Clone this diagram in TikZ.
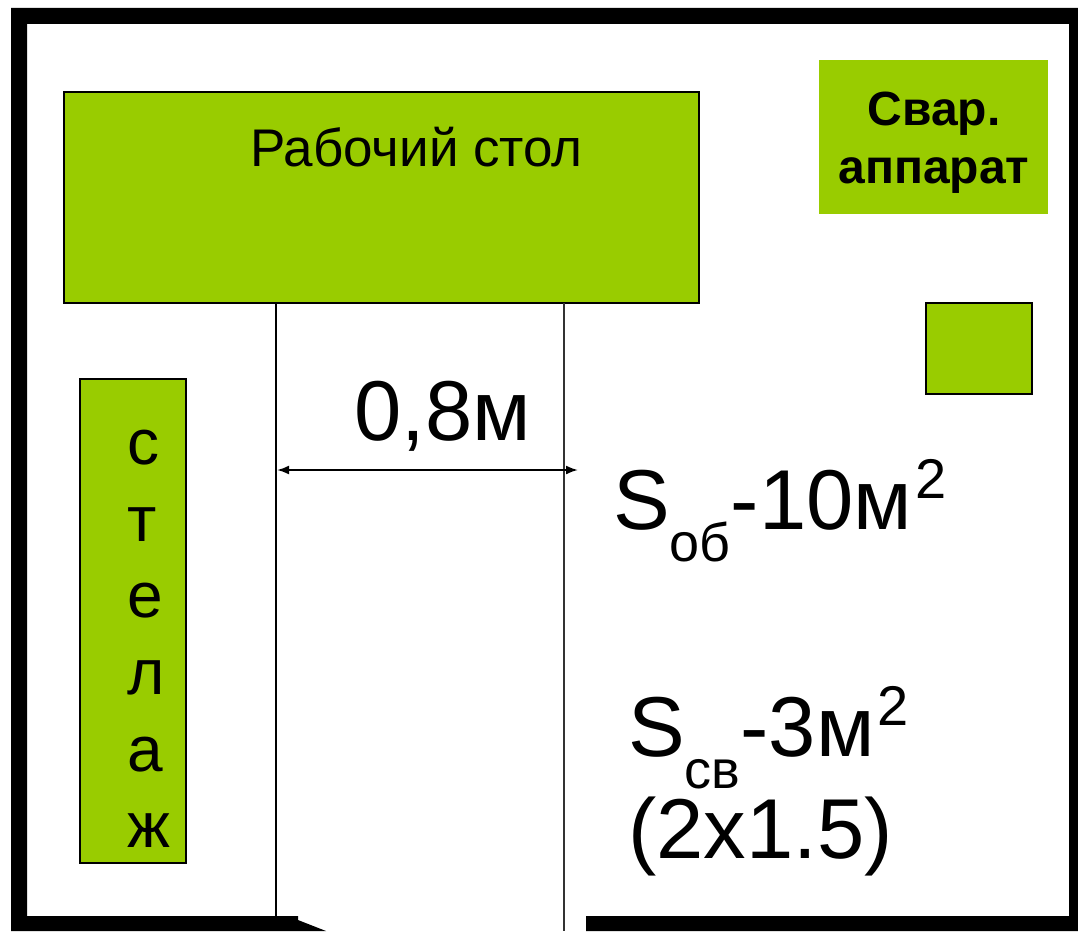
\documentclass[tikz,border=0pt]{standalone}
\usepackage{fontspec}
\setmainfont{Liberation Sans}
\usepackage{xcolor}
\usetikzlibrary{arrows.meta}
\definecolor{boxcolor}{HTML}{99CC00}
\newcommand{\fs}[1]{\fontsize{#1}{#1}\selectfont}
\newcommand{\subtext}[1]{\raisebox{-32pt}{\fs{54}#1}}
\newcommand{\suptext}[1]{\hspace{3pt}\raisebox{31pt}{\fs{56}#1}}
\tikzset{
  boxnode/.style={fill=boxcolor,draw=black,line width=1.4pt,inner sep=0pt,outer sep=0pt},
  plainbox/.style={fill=boxcolor,inner sep=0pt,outer sep=0pt},
  dimline/.style={black,line width=2pt},
}
\begin{document}
\begin{tikzpicture}[x=1pt,y=-1pt]
  \useasboundingbox (0,0) rectangle (1078,931);
  \fill [white] (0,0) rectangle (1078,931);
  % walls
  \fill [black] (11,8) -- (1078,8) -- (1078,931) -- (586,931) -- (586,916) -- (1069,916) -- (1069,24)
     -- (27,24) -- (27,916) -- (298,916) -- (298,920) -- (326,931) -- (11,931) -- cycle;
  % furniture
  \node [boxnode,minimum width=635pt,minimum height=211pt] (table) at (381.5,197.5) {};
  \node [anchor=base] (tablelabel) at (416.5,166) {\fs{53}Рабочий стол};
  \node [plainbox,minimum width=229pt,minimum height=153pt] (welder) at (933.5,137) {};
  \node [anchor=base] (welderlabel1) at (934,125) {\bfseries\fs{48}Свар.};
  \node [anchor=base] (welderlabel2) at (934,183) {\bfseries\fs{48}аппарат};
  \node [boxnode,minimum width=106pt,minimum height=91pt] (smallbox) at (979,348.5) {};
  \node [boxnode,minimum width=106pt,minimum height=484pt] (rack) at (133,621) {};
  \foreach \y/\ytext in {464/с, 541/т, 617/е, 694/л, 771/а, 847/ж}
    \node [anchor=base west,inner sep=0pt] (rack\y) at (127,\y) {\fs{64}\ytext};
  % passage
  \coordinate (floorL) at (275.5,916);
  \coordinate (floorR) at (563.5,931);
  \coordinate (tableL) at (275.5,303);
  \coordinate (tableR) at (563.5,303);
  \coordinate (dimL) at (277,470);
  \coordinate (dimR) at (578,470);
  \draw [dimline] (tableL) -- (floorL);
  \draw [dimline,black!80] (tableR) -- (floorR);
  \draw [dimline,{Latex[length=12pt,width=9pt]}-{Latex[length=12pt,width=9pt]}] (dimL) -- (dimR);
  % labels
  \node [anchor=base] (widthlabel) at (443,440) {\fs{85}0,8м};
  \node [anchor=base west,inner sep=0pt] (areaall) at (613,529)
    {\fs{85}S\subtext{об}-10м\suptext{2}};
  \node [anchor=base west,inner sep=0pt] (areaweld) at (628,756)
    {\fs{85}S\subtext{св}-3м\suptext{2}};
  \node [anchor=base west,inner sep=0pt] (areasize) at (628,858) {\fs{85}(2x1.5)};
\end{tikzpicture}
\end{document}
